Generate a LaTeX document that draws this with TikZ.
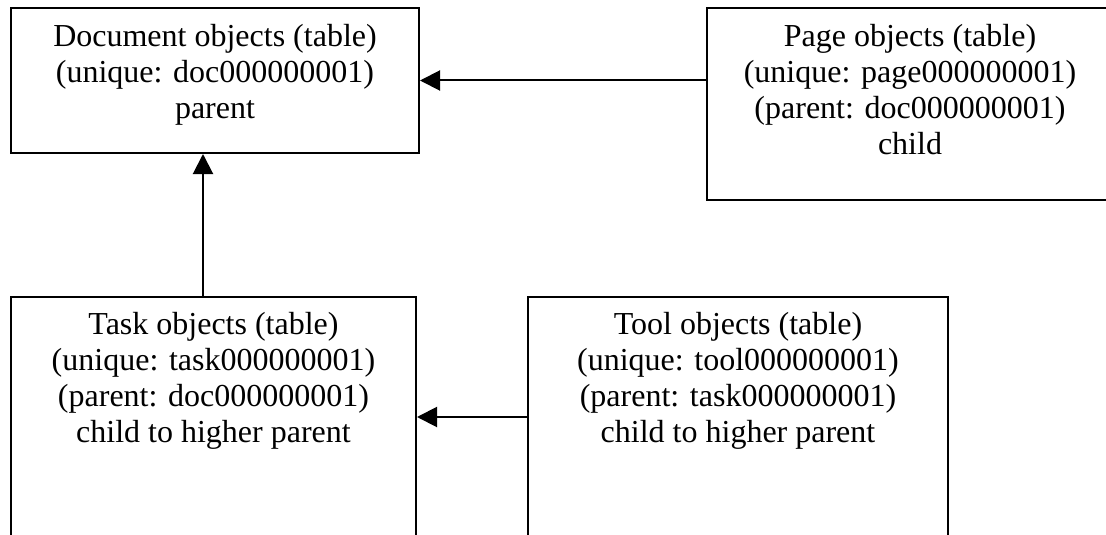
\documentclass[tikz,border=0pt]{standalone}
\usepackage{fontspec}
\setmainfont{Liberation Serif}
\usetikzlibrary{arrows.meta}
\begin{document}
\begin{tikzpicture}[x=1pt,y=1pt,
  box/.style={draw=black, line width=2pt, rectangle, inner sep=0pt, fill=none},
  txt/.style={align=center, inner sep=0pt, anchor=north, font=\fontsize{32}{36}\selectfont},
  link/.style={draw=black, line width=2pt, -{Triangle[length=20pt,width=20pt]}}]
\clip (0,0) rectangle (1106,-535);
\fill[white] (0,0) rectangle (1106,-535);
% boxes
\node[box, minimum width=408pt, minimum height=145pt] (doc) at (215,-80.5) {};
\node[box, minimum width=420pt, minimum height=192pt] (page) at (917,-104) {};
\node[box, minimum width=405pt, minimum height=280pt] (task) at (213.5,-437) {};
\node[box, minimum width=420pt, minimum height=280pt] (tool) at (738,-437) {};
% texts
\node[txt] (doct) at (215,-24) {Document objects (table)\\(unique: doc000000001)\\parent};
\node[txt] (paget) at (910,-24) {Page objects (table)\\(unique: page000000001)\\(parent: doc000000001)\\child};
\node[txt] (taskt) at (213.5,-312) {Task objects (table)\\(unique: task000000001)\\(parent: doc000000001)\\child to higher parent};
\node[txt] (toolt) at (738,-312) {Tool objects (table)\\(unique: tool000000001)\\(parent: task000000001)\\child to higher parent};
% connectors
\coordinate (vx) at (203,0);
\coordinate (hy) at (0,-417);
\draw[link] (page.west |- doc.east) -- (doc.east);
\draw[link] (vx |- task.north) -- (vx |- doc.south);
\draw[link] (tool.west |- hy) -- (task.east |- hy);
\end{tikzpicture}
\end{document}
